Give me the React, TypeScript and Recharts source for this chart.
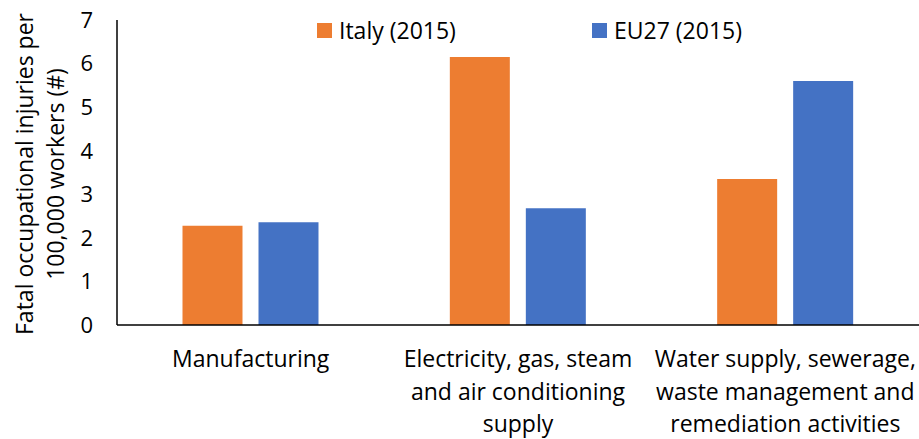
import { BarChart, Bar, XAxis, YAxis, Legend } from 'recharts';

const categories = [
  'Manufacturing',
  'Electricity, gas, steam and air conditioning supply',
  'Water supply, sewerage, waste management and remediation activities',
];
const categoryLines = [
  ['Manufacturing'],
  ['Electricity, gas, steam', 'and air conditioning', 'supply'],
  ['Water supply, sewerage,', 'waste management and', 'remediation activities'],
];
const italy = [2.28, 6.15, 3.35];
const eu27 = [2.36, 2.68, 5.6];
const yTicks = [0, 1, 2, 3, 4, 5, 6, 7];

const FONT = '"Open Sans", "Noto Sans", sans-serif';
const ORANGE = '#ED7D31';
const BLUE = '#4472C4';

const data = categories.map((c, i) => ({ name: c, italy: italy[i], eu27: eu27[i] }));

const CategoryTick = (props: any) => {
  const { x, index } = props;
  const lines = categoryLines[index] || [];
  return (
    <text x={x} y={367} textAnchor="middle" fill="#000" fontSize={23} fontFamily={FONT}>
      {lines.map((l, i) => (
        <tspan key={i} x={x} y={367 + i * 32.5}>
          {l}
        </tspan>
      ))}
    </text>
  );
};

const YLabel = () => (
  <g fontSize={23} fontFamily={FONT} fill="#000">
    <text x={24} y={174} textAnchor="middle" dominantBaseline="central" transform="rotate(-90 24 174)">
      Fatal occupational injuries per
    </text>
    <text x={55} y={174} textAnchor="middle" dominantBaseline="central" transform="rotate(-90 55 174)">
      100,000 workers (#)
    </text>
  </g>
);

const LegendContent = () => (
  <div style={{ position: 'relative', height: 30, fontFamily: FONT, fontSize: 23, color: '#000' }}>
    <div style={{ position: 'absolute', left: 317, top: 0, display: 'flex', alignItems: 'center' }}>
      <span style={{ width: 15, height: 15, background: ORANGE, display: 'inline-block', marginRight: 7 }} />
      Italy (2015)
    </div>
    <div style={{ position: 'absolute', left: 592, top: 0, display: 'flex', alignItems: 'center' }}>
      <span style={{ width: 15, height: 15, background: BLUE, display: 'inline-block', marginRight: 7 }} />
      EU27 (2015)
    </div>
  </div>
);

export default function App() {
  return (
    <div style={{ position: 'absolute', left: 0, top: 0, background: '#fff' }}>
      <style>{'body{margin:0}'}</style>
      <BarChart
        width={919}
        height={439}
        data={data}
        margin={{ top: 20, right: 0, bottom: 0, left: 0 }}
        barCategoryGap="24.5%"
        barGap={16}
      >
        <XAxis
          dataKey="name"
          height={114}
          axisLine={{ stroke: '#000', strokeWidth: 1.5 }}
          tickLine={false}
          tick={<CategoryTick />}
          interval={0}
        />
        <YAxis
          width={117}
          domain={[0, 7]}
          ticks={yTicks}
          interval={0}
          axisLine={{ stroke: '#000', strokeWidth: 1.5 }}
          tickLine={false}
          tickMargin={18}
          tick={{ fill: '#000', fontSize: 22, fontFamily: FONT }}
          label={<YLabel />}
        />
        <Legend
          layout="horizontal"
          verticalAlign="middle"
          content={<LegendContent />}
          wrapperStyle={{ top: 14, left: 0, width: 919 }}
        />
        <Bar dataKey="italy" name="Italy (2015)" fill={ORANGE} isAnimationActive={false} />
        <Bar dataKey="eu27" name="EU27 (2015)" fill={BLUE} isAnimationActive={false} />
      </BarChart>
    </div>
  );
}
